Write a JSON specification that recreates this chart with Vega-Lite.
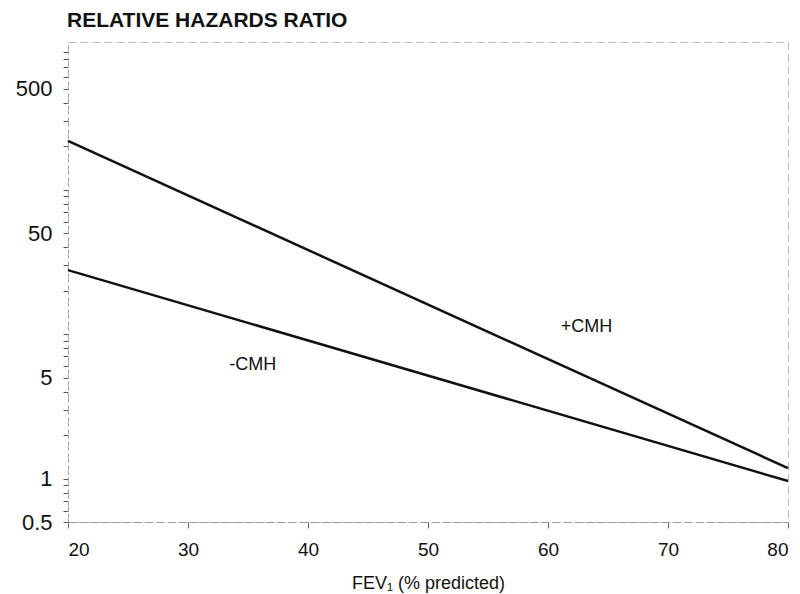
{
  "$schema": "https://vega.github.io/schema/vega-lite/v6.json",
  "width": 720,
  "height": 480,
  "autosize": "none",
  "padding": {"left": 68, "top": 42, "right": 12, "bottom": 72},
  "background": "white",
  "title": {
    "text": "RELATIVE HAZARDS RATIO",
    "anchor": "start",
    "frame": "group",
    "font": "Liberation Sans",
    "fontSize": 21,
    "fontWeight": "bold",
    "color": "#111",
    "offset": 11,
    "dx": -1
  },
  "config": {
    "view": {"stroke": "#bbb", "strokeDash": [8, 4], "strokeWidth": 1}
  },
  "datasets": {
    "lines": [
      {"fev": 20, "hr": 217, "group": "+CMH"},
      {"fev": 80, "hr": 1.18, "group": "+CMH"},
      {"fev": 20, "hr": 27.7, "group": "-CMH"},
      {"fev": 80, "hr": 0.96, "group": "-CMH"}
    ],
    "labels": [
      {"fev": 63.2, "hr": 11.2, "label": "+CMH"},
      {"fev": 35.4, "hr": 6.1, "label": "-CMH"}
    ]
  },
  "layer": [
    {
      "data": {"name": "lines"},
      "mark": {"type": "line", "color": "#111", "strokeWidth": 2.5},
      "encoding": {
        "x": {
          "field": "fev", "type": "quantitative",
          "scale": {"domain": [20, 80], "nice": false},
          "axis": {
            "values": [20, 30, 40, 50, 60, 70, 80],
            "title": "FEV₁ (% predicted)",
            "titleFont": "Liberation Sans",
            "titleFontSize": 18,
            "titleFontWeight": "normal",
            "titleColor": "#111",
            "titlePadding": 15,
            "labelFont": "Liberation Sans",
            "labelFontSize": 19,
            "labelColor": "#111",
            "labelPadding": 12,
            "grid": false,
            "domainColor": "#999",
            "domainDash": [8, 3],
            "tickColor": "#666",
            "tickSize": 6
          }
        },
        "y": {
          "field": "hr", "type": "quantitative",
          "scale": {"type": "log", "domain": [0.5, 1050], "nice": false},
          "axis": {
            "values": [0.5, 0.6, 0.7, 0.8, 0.9, 1, 2, 3, 4, 5, 6, 7, 8, 9, 10, 20, 30, 40, 50, 60, 70, 80, 90, 100, 200, 300, 400, 500, 600, 700, 800, 900],
            "labelExpr": "indexof([0.5, 1, 5, 50, 500], datum.value) >= 0 ? datum.label : ''",
            "title": null,
            "labelFont": "Liberation Sans",
            "labelFontSize": 22,
            "labelColor": "#111",
            "labelPadding": 11,
            "grid": false,
            "domainColor": "#999",
            "domainDash": [3, 3],
            "tickColor": "#555",
            "tickSize": 5
          }
        },
        "detail": {"field": "group"}
      }
    },
    {
      "data": {"name": "labels"},
      "mark": {"type": "text", "font": "Liberation Sans", "fontSize": 18, "color": "#111"},
      "encoding": {
        "x": {"field": "fev", "type": "quantitative"},
        "y": {"field": "hr", "type": "quantitative"},
        "text": {"field": "label"}
      }
    }
  ]
}
